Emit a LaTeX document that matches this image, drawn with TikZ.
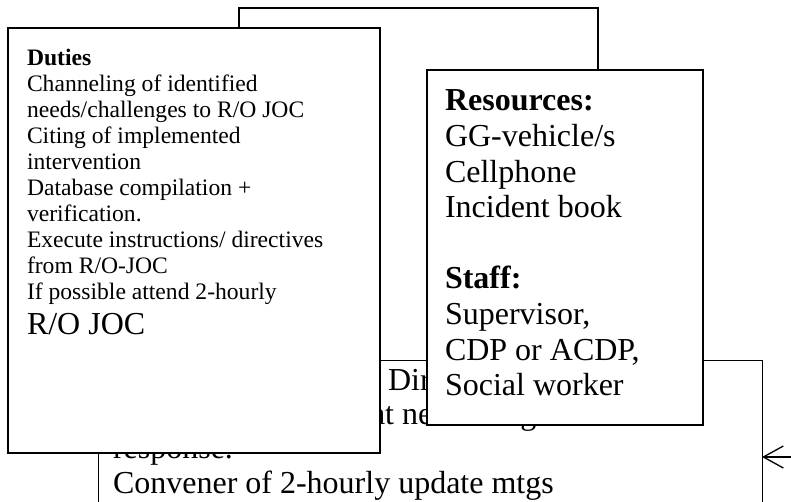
\documentclass[tikz,border=0pt]{standalone}
\usepackage{fontspec}
\setmainfont{Liberation Serif}
\usetikzlibrary{arrows.meta}
\begin{document}
\begin{tikzpicture}[x=1pt, y=-1pt,
    panel/.style={draw, fill=white, anchor=north west, outer sep=0pt, align=left},
    feedarrow/.style={-{Straight Barb[length=20pt,width=22pt]}, line width=1.3pt}]
\useasboundingbox (0,0) rectangle (791,502);
\clip (0,0) rectangle (791,502);
% box behind, only its top corner shows
\node[panel, line width=1.3pt, minimum width=359pt, minimum height=392pt] (backbox) at (239,8) {};
% lower box, runs off the page
\node[panel, line width=0.9pt, inner xsep=15pt, inner ysep=9pt] (meet) at (98,360)
  {\begin{minipage}[t][222pt][t]{634pt}\fontsize{32}{34.3}\selectfont\raggedright
   \hspace*{275pt}Dir\\
   \hspace*{258pt}at ne\hspace*{88pt}g\\
   response.\\
   Convener of 2-hourly update mtgs
   \end{minipage}};
\node[panel, line width=1.6pt, inner xsep=19pt, inner ysep=20.7pt] (duties) at (8,28)
  {\begin{minipage}[t][383.6pt][t]{334pt}\fontsize{23.6}{26.1}\selectfont\raggedright
   \textbf{Duties}\\
   Channeling of identified\\
   needs/challenges to R/O JOC\\
   Citing of implemented\\
   intervention\\
   Database compilation +\\
   verification.\\
   Execute instructions/ directives\\
   from R/O-JOC\\
   If possible attend 2-hourly\par
   {\fontsize{32}{35}\selectfont R/O JOC\par}
   \end{minipage}};
\node[panel, line width=1.6pt, inner xsep=18pt, inner ysep=20pt] (resources) at (427,70)
  {\begin{minipage}[t][315pt][t]{240pt}\fontsize{32}{35.6}\selectfont\raggedright
   \textbf{Resources:}\\
   GG-vehicle/s\\
   Cellphone\\
   Incident book\\
   \mbox{}\\
   \textbf{Staff:}\\
   Supervisor,\\
   CDP or ACDP,\\
   Social worker
   \end{minipage}};
\coordinate (feed) at (800,457);
\draw[feedarrow] (feed) -- (feed -| meet.east);
\end{tikzpicture}
\end{document}
